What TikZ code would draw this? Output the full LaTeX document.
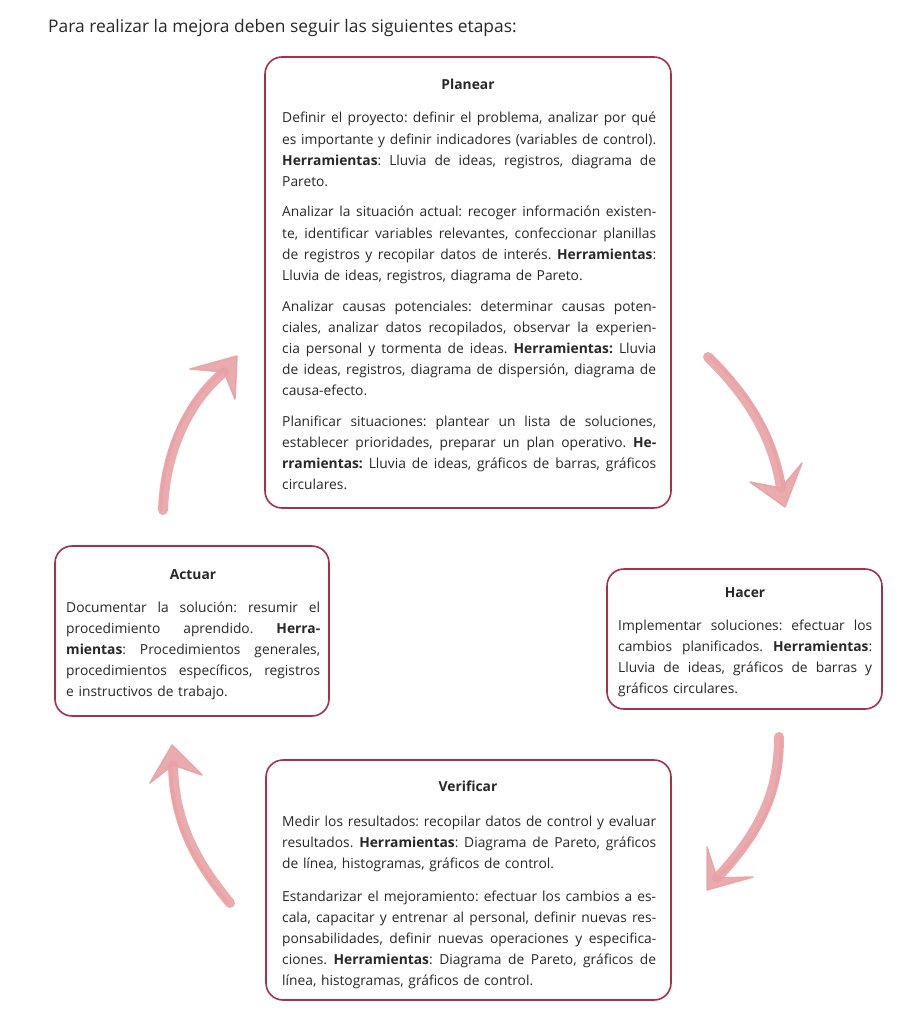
\documentclass[tikz,border=0pt]{standalone}
\usepackage{fontspec}
\setmainfont{Open Sans}
\definecolor{boxred}{RGB}{168,48,72}
\definecolor{arrowpink}{RGB}{232,162,166}
\definecolor{txt}{RGB}{40,40,40}
\newcommand{\JL}[1]{\hbox to 374pt{\spaceskip=0.26em plus 1fil\relax#1}}
\newcommand{\JS}[1]{\hbox to 254pt{\spaceskip=0.26em plus 1fil\relax#1}}
\newcommand{\LL}[1]{\hbox{#1}}
\frenchspacing
\tikzset{
  stagebox/.style={draw=boxred, line width=1.6pt, rounded corners=17pt, fill=white},
  para/.style={anchor=base west, inner sep=0pt, text=txt,
     font=\fontsize{13.8}{21.1}\selectfont\frenchspacing},
  stagetitle/.style={anchor=base, inner sep=0pt, text=txt, font=\fontsize{13.8}{15}\selectfont\bfseries},
  shaft/.style={draw=arrowpink, line width=10pt, line cap=round, opacity=.9},
  shaftthin/.style={draw=arrowpink!80!red, line width=3pt, line cap=round, opacity=.2},
  headfill/.style={fill=arrowpink, draw=arrowpink, line width=1.5pt, line join=round, opacity=.9}
}
\begin{document}
\begin{tikzpicture}[x=1pt,y=-1pt]
\useasboundingbox (0,0) rectangle (914,1024);
\fill[white] (0,0) rectangle (914,1024);

% heading
\node[anchor=base west, inner sep=0pt, text=txt, font=\fontsize{17.4}{20}\selectfont] (heading) at (48,33)
  {Para realizar la mejora deben seguir las siguientes etapas:};

% boxes
\draw[stagebox] (265,57) rectangle (671,508);
\draw[stagebox] (55,546) rectangle (329,716);
\draw[stagebox] (607,569) rectangle (882,709);
\draw[stagebox] (266,760) rectangle (671,1000);

% Planear
\node[stagetitle] (tplan) at (468,90) {Planear};
\node[para, text width=374pt] (p1) at (282,123) {%
\JL{Definir el proyecto: definir el problema, analizar por qué}
\JL{es importante y definir indicadores (variables de control).}
\JL{\textbf{Herramientas}: Lluvia de ideas, registros, diagrama de}
\LL{Pareto.}};
\node[para, text width=374pt] (p2) at (282,217) {%
\JL{Analizar la situación actual: recoger información existen-}
\JL{te, identificar variables relevantes, confeccionar planillas}
\JL{de registros y recopilar datos de interés. \textbf{Herramientas}:}
\LL{Lluvia de ideas, registros, diagrama de Pareto.}};
\node[para, text width=374pt] (p3) at (282,311) {%
\JL{Analizar causas potenciales: determinar causas poten-}
\JL{ciales, analizar datos recopilados, observar la experien-}
\JL{cia personal y tormenta de ideas. \textbf{Herramientas:} Lluvia}
\JL{de ideas, registros, diagrama de dispersión, diagrama de}
\LL{causa-efecto.}};
\node[para, text width=374pt] (p4) at (282,426) {%
\JL{Planificar situaciones: plantear un lista de soluciones,}
\JL{establecer prioridades, preparar un plan operativo. \textbf{He-}}
\JL{\textbf{rramientas:} Lluvia de ideas, gráficos de barras, gráficos}
\LL{circulares.}};

% Actuar
\node[stagetitle] (tact) at (193,579) {Actuar};
\node[para, text width=254pt] (a1) at (66,612) {%
\JS{Documentar la solución: resumir el}
\JS{procedimiento aprendido. \textbf{Herra-}}
\JS{\textbf{mientas}: Procedimientos generales,}
\JS{procedimientos específicos, registros}
\LL{e instructivos de trabajo.}};

% Hacer
\node[stagetitle] (thac) at (745,597) {Hacer};
\node[para, text width=254pt] (h1) at (618,630) {%
\JS{Implementar soluciones: efectuar los}
\JS{cambios planificados. \textbf{Herramientas}:}
\JS{Lluvia de ideas, gráficos de barras y}
\LL{gráficos circulares.}};

% Verificar
\node[stagetitle] (tver) at (468,791) {Verificar};
\node[para, text width=374pt] (v1) at (282,826) {%
\JL{Medir los resultados: recopilar datos de control y evaluar}
\JL{resultados. \textbf{Herramientas}: Diagrama de Pareto, gráficos}
\LL{de línea, histogramas, gráficos de control.}};
\node[para, text width=374pt] (v2) at (282,901.5) {%
\JL{Estandarizar el mejoramiento: efectuar los cambios a es-}
\JL{cala, capacitar y entrenar al personal, definir nuevas res-}
\JL{ponsabilidades, definir nuevas operaciones y especifica-}
\JL{ciones. \textbf{Herramientas}: Diagrama de Pareto, gráficos de}
\LL{línea, histogramas, gráficos de control.}};

% arrows: coordinates
\coordinate (a1s) at (708,357); \coordinate (a1e) at (781,488);
\coordinate (a2s) at (779,737); \coordinate (a2e) at (717,878);
\coordinate (a3s) at (230,903); \coordinate (a3e) at (173,765);
\coordinate (a4s) at (163,510); \coordinate (a4e) at (224,372);

% arrow 1 (Planear -> Hacer)
\draw[shaft] (a1s) .. controls (745,393) and (773,435) .. (a1e);
\draw[shaftthin] ([xshift=3pt]a1s) .. controls (748,392) and (776,435) .. ([xshift=2pt]a1e);
\filldraw[headfill] (785,507) -- (750,482) -- (a1e) -- (802,463) -- cycle;

% arrow 2 (Hacer -> Verificar)
\draw[shaft] (a2s) .. controls (779,790) and (762,830) .. (a2e);
\draw[shaftthin] ([xshift=2pt]a2s) .. controls (782,790) and (765,832) .. ([xshift=2pt,yshift=2pt]a2e);
\filldraw[headfill] (707,890) -- (707,847) -- (a2e) -- (753,877) -- cycle;

% arrow 3 (Verificar -> Actuar)
\draw[shaft] (a3s) .. controls (196,862) and (174,822) .. (a3e);
\draw[shaftthin] ([xshift=-2pt]a3s) .. controls (193,862) and (171,822) .. ([xshift=-2pt]a3e);
\filldraw[headfill] (172,745) -- (150,783) -- (a3e) -- (202,775) -- cycle;

% arrow 4 (Actuar -> Planear)
\draw[shaft] (a4s) .. controls (165,452) and (188,402) .. (a4e);
\draw[shaftthin] ([xshift=-2pt]a4s) .. controls (162,452) and (185,400) .. ([xshift=-2pt]a4e);
\filldraw[headfill] (237,356) -- (190,369) -- (a4e) -- (235,399) -- cycle;
\end{tikzpicture}
\end{document}
